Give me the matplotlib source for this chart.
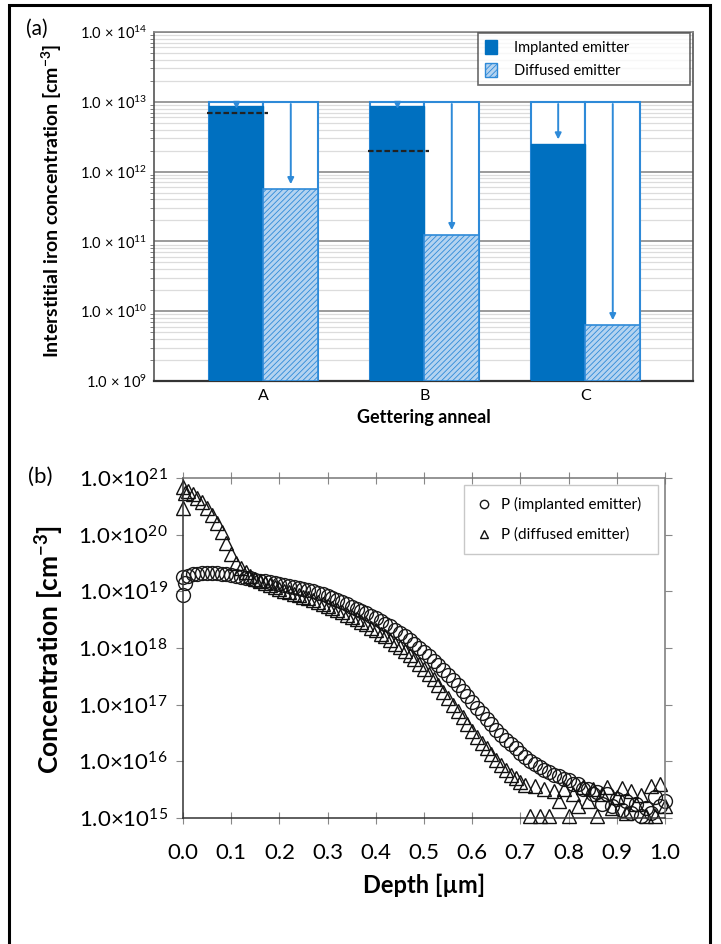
import matplotlib
matplotlib.use("Agg")
import matplotlib.pyplot as plt
from matplotlib.patches import Patch, Rectangle
from matplotlib.ticker import FixedLocator, LogLocator, NullFormatter, FuncFormatter
import numpy as np

plt.rcParams['font.family'] = ['Lato', 'DejaVu Sans']
plt.rcParams['mathtext.fontset'] = 'custom'
plt.rcParams['mathtext.rm'] = 'Lato'
plt.rcParams['mathtext.it'] = 'Lato:italic'
plt.rcParams['mathtext.bf'] = 'Lato:bold'
plt.rcParams['hatch.linewidth'] = 0.6

# ---- panel (a): interstitial iron after gettering ----
anneals = ['A', 'B', 'C']
initial_fe = [1e13, 1e13, 1e13]
implanted_fe = [8.8e12, 8.6e12, 2.45e12]
diffused_fe = [5.6e11, 1.23e11, 6.3e9]
dashed_level = [7e12, 2e12, None]

# ---- panel (b): phosphorus profiles ----
depth_imp = [0.0, 0.0, 0.005, 0.01, 0.02, 0.03, 0.04, 0.05, 0.06, 0.07, 0.08, 0.09,
             0.10, 0.11, 0.12, 0.13, 0.14, 0.15, 0.16, 0.17, 0.18, 0.19,
             0.20, 0.21, 0.22, 0.23, 0.24, 0.25, 0.26, 0.27, 0.28, 0.29,
             0.30, 0.31, 0.32, 0.33, 0.34, 0.35, 0.36, 0.37, 0.38, 0.39,
             0.40, 0.41, 0.42, 0.43, 0.44, 0.45, 0.46, 0.47, 0.48, 0.49,
             0.50, 0.51, 0.52, 0.53, 0.54, 0.55, 0.56, 0.57, 0.58, 0.59,
             0.60, 0.61, 0.62, 0.63, 0.64, 0.65, 0.66, 0.67, 0.68, 0.69,
             0.70, 0.71, 0.72, 0.73, 0.74, 0.75, 0.76, 0.77, 0.78, 0.79,
             0.80, 0.81, 0.82, 0.83, 0.84, 0.85, 0.86, 0.87, 0.88, 0.89,
             0.90, 0.91, 0.92, 0.93, 0.94, 0.95, 0.96, 0.97, 0.98, 0.99, 1.00]
conc_imp = [1.8e19, 8.5e18, 1.4e19, 1.9e19, 2.0e19, 2.0e19, 2.1e19, 2.1e19, 2.1e19, 2.1e19, 2.0e19, 2.0e19,
            1.95e19, 1.9e19, 1.8e19, 1.75e19, 1.7e19, 1.6e19, 1.55e19, 1.5e19, 1.45e19, 1.4e19,
            1.35e19, 1.3e19, 1.25e19, 1.2e19, 1.15e19, 1.1e19, 1.05e19, 1.0e19, 9.4e18, 8.8e18,
            8.2e18, 7.6e18, 7.0e18, 6.4e18, 5.9e18, 5.4e18, 4.9e18, 4.5e18, 4.1e18, 3.7e18,
            3.4e18, 3.0e18, 2.7e18, 2.4e18, 2.1e18, 1.85e18, 1.6e18, 1.4e18, 1.2e18, 1.0e18,
            8.5e17, 7.2e17, 6.0e17, 5.0e17, 4.1e17, 3.3e17, 2.7e17, 2.2e17, 1.75e17, 1.4e17,
            1.1e17, 8.8e16, 7.0e16, 5.6e16, 4.5e16, 3.6e16, 2.9e16, 2.4e16, 2.0e16, 1.7e16,
            1.4e16, 1.2e16, 1.0e16, 8.8e15, 7.8e15, 7.0e15, 6.5e15, 5.8e15, 5.6e15, 4.8e15,
            4.6e15, 4.0e15, 3.9e15, 3.2e15, 3.3e15, 2.7e15, 2.9e15, 1.8e15, 2.6e15, 1.6e15,
            2.2e15, 1.4e15, 2.0e15, 1.2e15, 1.8e15, 1.1e15, 1.5e15, 1.2e15, 2.3e15, 1.6e15, 2.0e15]

depth_dif = [0.0, 0.0, 0.005, 0.01, 0.02, 0.03, 0.04, 0.05, 0.06, 0.07, 0.08, 0.09,
             0.10, 0.11, 0.12, 0.13, 0.14, 0.15, 0.16, 0.17, 0.18, 0.19,
             0.20, 0.21, 0.22, 0.23, 0.24, 0.25, 0.26, 0.27, 0.28, 0.29,
             0.30, 0.31, 0.32, 0.33, 0.34, 0.35, 0.36, 0.37, 0.38, 0.39,
             0.40, 0.41, 0.42, 0.43, 0.44, 0.45, 0.46, 0.47, 0.48, 0.49,
             0.50, 0.51, 0.52, 0.53, 0.54, 0.55, 0.56, 0.57, 0.58, 0.59,
             0.60, 0.61, 0.62, 0.63, 0.64, 0.65, 0.66, 0.67, 0.68, 0.69,
             0.70, 0.71, 0.72, 0.73, 0.74, 0.75, 0.76, 0.77, 0.78, 0.79,
             0.80, 0.81, 0.82, 0.83, 0.84, 0.85, 0.86, 0.87, 0.88, 0.89,
             0.90, 0.91, 0.92, 0.93, 0.94, 0.95, 0.96, 0.97, 0.98, 0.99, 1.00]
conc_dif = [7.0e20, 3.0e20, 5.5e20, 5.9e20, 5.3e20, 4.5e20, 3.8e20, 2.9e20, 2.2e20, 1.6e20, 1.1e20, 7.0e19,
            4.5e19, 3.2e19, 2.6e19, 2.2e19, 1.9e19, 1.65e19, 1.5e19, 1.4e19, 1.3e19, 1.2e19,
            1.1e19, 1.03e19, 9.6e18, 9.0e18, 8.5e18, 8.0e18, 7.5e18, 7.0e18, 6.5e18, 6.0e18,
            5.5e18, 5.1e18, 4.7e18, 4.3e18, 3.9e18, 3.5e18, 3.2e18, 2.9e18, 2.6e18, 2.3e18,
            2.1e18, 1.8e18, 1.6e18, 1.4e18, 1.2e18, 1.05e18, 9.0e17, 7.6e17, 6.4e17, 5.3e17,
            4.3e17, 3.5e17, 2.8e17, 2.2e17, 1.7e17, 1.3e17, 1.0e17, 7.8e16, 6.0e16, 4.6e16,
            3.4e16, 2.7e16, 2.1e16, 1.7e16, 1.35e16, 1.05e16, 8.5e15, 7.0e15, 5.8e15, 5.0e15,
            4.4e15, 3.8e15, 1.1e15, 3.6e15, 1.1e15, 3.2e15, 1.1e15, 3.0e15, 2.0e15, 3.3e15,
            1.1e15, 2.7e15, 1.6e15, 3.5e15, 2.0e15, 3.3e15, 1.1e15, 2.6e15, 3.5e15, 1.5e15,
            2.3e15, 3.4e15, 1.2e15, 3.0e15, 1.8e15, 2.5e15, 1.1e15, 3.6e15, 1.1e15, 3.9e15, 1.6e15]

blue = '#0070c0'
edge_blue = '#2e8ad8'
light_blue = '#b4d3f0'

fig = plt.figure(figsize=(7.21, 9.44), dpi=100)

# outer frame (no bottom edge visible)
fig.patches.append(Rectangle((9 / 721, -0.01), 701 / 721, 1.01 - 5 / 944, transform=fig.transFigure,
                             fill=False, edgecolor='black', linewidth=2.2))

# ================= (a) =================
ax = fig.add_axes([0.2136, 0.5964, 0.9612 - 0.2136, 0.9661 - 0.5964])
floor = 1e9
x = np.arange(len(anneals))
w = 0.339
ax.set_yscale('log')
ax.set_ylim(floor, 1e14)
ax.set_xlim(-0.68, 2.668)

for i in range(len(anneals)):
    xi = x[i] - w / 2
    xd = x[i] + w / 2
    # empty boxes up to the starting level
    ax.bar(xi, initial_fe[i] - floor, bottom=floor, width=w, facecolor='white',
           edgecolor=edge_blue, linewidth=1.5, zorder=2)
    ax.bar(xd, initial_fe[i] - floor, bottom=floor, width=w, facecolor='white',
           edgecolor=edge_blue, linewidth=1.5, zorder=2)
    ax.bar(xi, implanted_fe[i] - floor, bottom=floor, width=w, facecolor=blue,
           edgecolor=blue, linewidth=1.0, zorder=3)
    ax.bar(xd, diffused_fe[i] - floor, bottom=floor, width=w, facecolor=light_blue,
           edgecolor=edge_blue, hatch='//////', linewidth=1.2, zorder=3)
    for xx, val in ((xi, implanted_fe[i]), (xd, diffused_fe[i])):
        top = initial_fe[i] * 0.93
        end = val * 1.18
        if end < top:
            ax.annotate('', xy=(xx, end), xytext=(xx, top),
                        arrowprops=dict(arrowstyle='-|>', color=edge_blue, lw=1.4,
                                        mutation_scale=9, shrinkA=0, shrinkB=0),
                        zorder=4)
        else:
            ax.plot(xx, np.sqrt(initial_fe[i] * val), marker='v', color=edge_blue,
                    ms=4, zorder=4)
    if dashed_level[i] is not None:
        ax.plot([xi - w / 2 - 0.012, xi + w / 2 + 0.025], [dashed_level[i]] * 2,
                color='#222222', lw=1.6, ls=(0, (2.5, 1.2)), zorder=5)

ax.yaxis.set_major_locator(FixedLocator([1e9, 1e10, 1e11, 1e12, 1e13, 1e14]))
ax.yaxis.set_minor_locator(LogLocator(base=10, subs=np.arange(2, 10)))
ax.yaxis.set_minor_formatter(NullFormatter())
ax.yaxis.set_major_formatter(FuncFormatter(
    lambda v, p: r'$\mathregular{1.0\ ×\ 10^{%d}}$' % round(np.log10(v))))
ax.grid(axis='y', which='major', color='#808080', lw=1.1, zorder=0)
ax.grid(axis='y', which='minor', color='#dcdcdc', lw=0.9, zorder=0)
ax.set_axisbelow(True)
ax.set_xticks(x)
ax.set_xticklabels(anneals)
ax.tick_params(axis='x', length=0, labelsize=11.5, pad=6)
ax.tick_params(axis='y', which='major', length=0, labelsize=10.5, pad=5)
ax.tick_params(axis='y', which='minor', length=3, direction='out', color='#666666')
for s in ax.spines.values():
    s.set_color('#555555')
    s.set_linewidth(1.2)
ax.spines['bottom'].set_color('#333333')
ax.spines['bottom'].set_linewidth(1.6)
ax.spines['top'].set_color('#888888')

ax.set_xlabel('Gettering anneal', fontsize=13, fontweight='bold')
ax.xaxis.set_label_coords(0.5, -0.106)
ax.xaxis.label.set_va('center')
ax.set_ylabel(r'Interstitial iron concentration [cm$\mathbf{^{-3}}$]', fontsize=14, fontweight='bold')
ax.yaxis.set_label_coords(-0.189, 0.516)
ax.yaxis.label.set_va('center')

handles = [Patch(facecolor=blue, edgecolor=blue, label='Implanted emitter'),
           Patch(facecolor=light_blue, edgecolor=edge_blue, hatch='//////', label='Diffused emitter')]
leg = ax.legend(handles=handles, loc='upper left', bbox_to_anchor=(0.601, 0.868, 0.393, 0.129),
                mode='expand', borderaxespad=0, fontsize=10.5, handlelength=0.8, handleheight=1.1,
                handletextpad=1.2, borderpad=0.5, labelspacing=0.5, frameon=True, fancybox=False)
leg.get_frame().set_edgecolor('#444444')
leg.get_frame().set_linewidth(1.2)
leg.set_zorder(10)

fig.text(37 / 721, 1 - 29 / 944, '(a)', fontsize=15, ha='center', va='center')

# ================= (b) =================
bx = fig.add_axes([0.2538, 0.1335, 0.9223 - 0.2538, 0.4936 - 0.1335])
bx.set_yscale('log')
bx.set_ylim(1e15, 1e21)
bx.set_xlim(0, 1.0)
bx.plot(depth_imp, conc_imp, ls='none', marker='o', mfc='none', mec='#1a1a1a', ms=10,
        mew=1.0, clip_on=False, label='P (implanted emitter)')
bx.plot(depth_dif, conc_dif, ls='none', marker='^', mfc='none', mec='#111111', ms=10,
        mew=1.0, clip_on=False, label='P (diffused emitter)')

bx.set_xticks(np.round(np.arange(0, 1.01, 0.1), 1))
bx.xaxis.set_major_formatter(FuncFormatter(lambda v, p: '%.1f' % v))
bx.yaxis.set_major_locator(FixedLocator([1e15, 1e16, 1e17, 1e18, 1e19, 1e20, 1e21]))
bx.yaxis.set_minor_locator(FixedLocator([]))
bx.yaxis.set_major_formatter(FuncFormatter(
    lambda v, p: r'$\mathregular{1.0×10^{%d}}$' % round(np.log10(v))))
bx.tick_params(axis='x', direction='inout', length=8, labelsize=16, pad=14, color='#888888',
               top=True)
bx.tick_params(axis='y', direction='out', length=5, labelsize=16, pad=6, color='#888888',
               right=True)
for s in bx.spines.values():
    s.set_color('#333333')
    s.set_linewidth(1.1)
bx.spines['top'].set_color('#777777')
bx.spines['right'].set_color('#777777')

bx.set_xlabel('Depth [µm]', fontsize=17, fontweight='bold')
bx.xaxis.set_label_coords(0.5, -0.197)
bx.xaxis.label.set_va('center')
bx.set_ylabel(r'Concentration [cm$\mathbf{^{-3}}$]', fontsize=19, fontweight='bold')
bx.yaxis.set_label_coords(-0.276, 0.494)
bx.yaxis.label.set_va('center')

leg2 = bx.legend(loc='upper left', bbox_to_anchor=(0.583, 0.779, 0.402, 0.2), mode='expand',
                 borderaxespad=0, fontsize=11, markerscale=0.6, handlelength=1.0,
                 handletextpad=0.6, borderpad=0.8, labelspacing=1.0, fancybox=False)
leg2.get_frame().set_edgecolor('#bbbbbb')
leg2.get_frame().set_linewidth(1.0)

fig.text(40 / 721, 1 - 477 / 944, '(b)', fontsize=16, ha='center', va='center')

fig.savefig('out.png', dpi=100)
